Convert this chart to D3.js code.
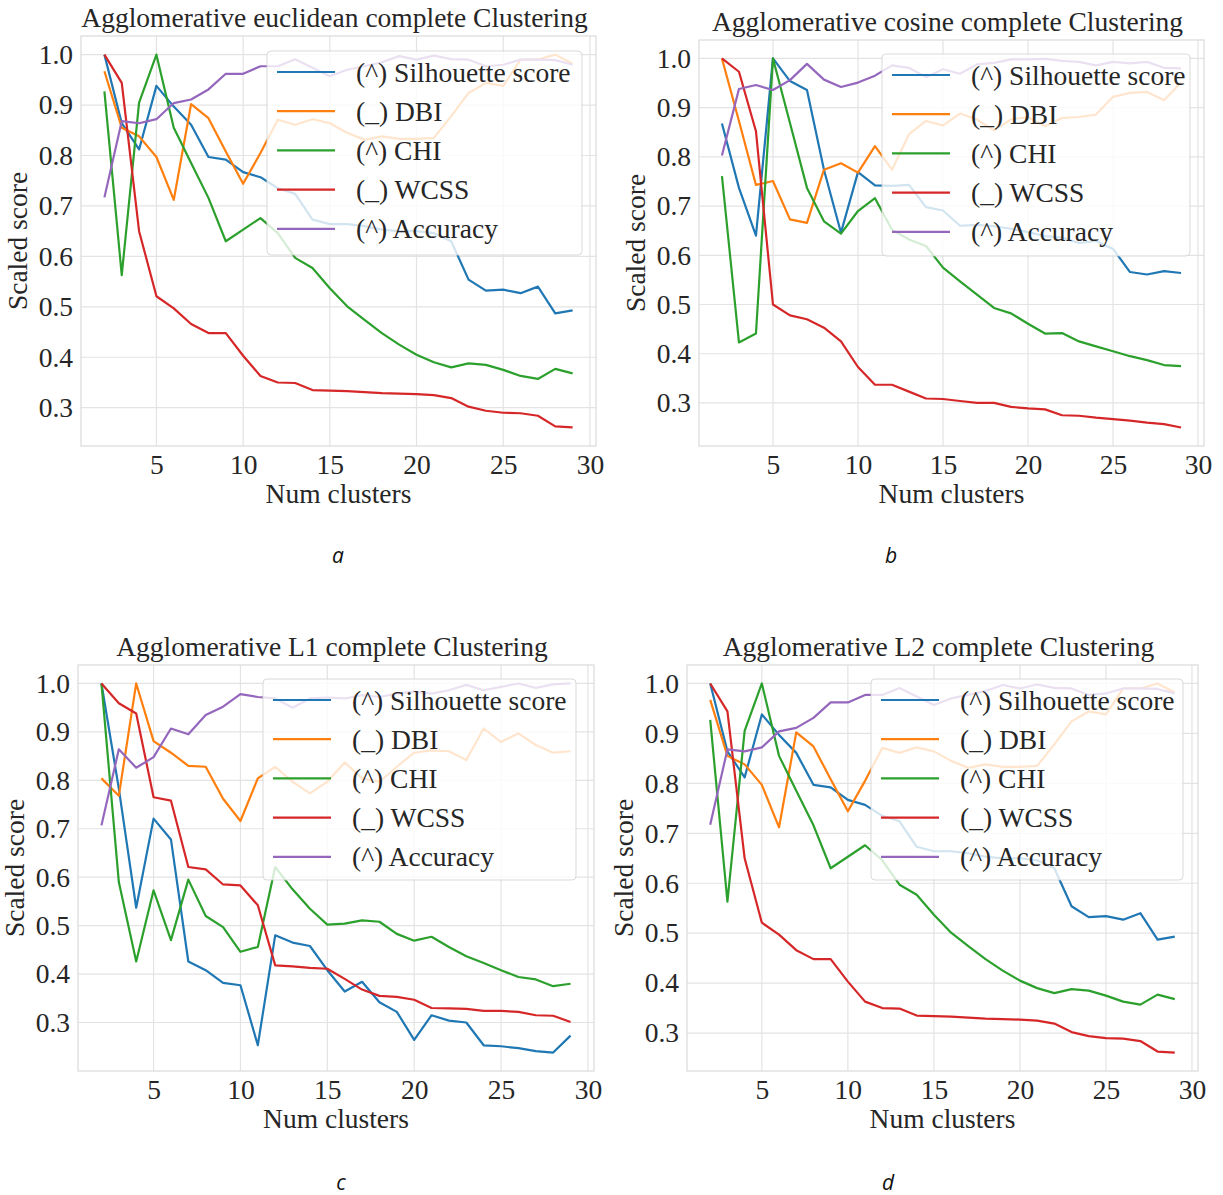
<!DOCTYPE html>
<html><head><meta charset="utf-8">
<script src="https://cdn.jsdelivr.net/npm/d3@7"></script>
<style>
html,body{margin:0;padding:0;background:#fff;}
svg{display:block;}
</style>
</head><body>
<svg id="chart" width="1223" height="1195"></svg>
<script>
// ---------- DATA ----------
const clusters = [2,3,4,5,6,7,8,9,10,11,12,13,14,15,16,17,18,19,20,21,22,23,24,25,26,27,28,29];
const seriesNames = ["(^) Silhouette score", "(_) DBI", "(^) CHI", "(_) WCSS", "(^) Accuracy"];
const xTicks = [5,10,15,20,25,30];
const yTicks = [0.3,0.4,0.5,0.6,0.7,0.8,0.9,1.0];
const panelTitles = ["Agglomerative euclidean complete Clustering","Agglomerative cosine complete Clustering","Agglomerative L1 complete Clustering","Agglomerative L2 complete Clustering"];
const panelCaptions = ["a","b","c","d"];

// (a) euclidean
const euclidSilhouette = [1.0,0.864,0.812,0.938,0.897,0.861,0.797,0.792,0.767,0.757,0.735,0.724,0.673,0.664,0.664,0.66,0.653,0.65,0.65,0.646,0.63,0.554,0.532,0.534,0.527,0.54,0.487,0.493];
const euclidDBI = [0.967,0.855,0.838,0.797,0.712,0.902,0.874,0.808,0.744,0.805,0.871,0.861,0.872,0.864,0.845,0.831,0.838,0.833,0.833,0.835,0.878,0.924,0.944,0.938,0.99,0.99,1.0,0.982];
const euclidCHI = [0.927,0.563,0.905,1.0,0.855,0.785,0.716,0.63,0.653,0.676,0.646,0.597,0.577,0.537,0.501,0.474,0.448,0.425,0.405,0.39,0.38,0.388,0.385,0.375,0.363,0.357,0.377,0.368];
const euclidWCSS = [1.0,0.944,0.65,0.521,0.497,0.466,0.448,0.448,0.403,0.363,0.35,0.349,0.335,0.334,0.333,0.331,0.329,0.328,0.327,0.325,0.319,0.302,0.294,0.29,0.289,0.284,0.263,0.261];
const euclidAccuracy = [0.717,0.868,0.864,0.872,0.904,0.911,0.931,0.962,0.962,0.977,0.977,0.991,0.974,0.957,0.97,0.977,0.985,0.997,0.99,0.998,0.991,0.99,0.977,0.98,0.99,0.99,0.989,0.98];

// (b) cosine
const cosineSilhouette = [0.868,0.737,0.64,1.0,0.954,0.936,0.774,0.646,0.769,0.742,0.741,0.743,0.698,0.691,0.66,0.662,0.659,0.654,0.647,0.639,0.636,0.625,0.629,0.613,0.566,0.561,0.568,0.564];
const cosineDBI = [1.0,0.873,0.743,0.751,0.673,0.666,0.774,0.787,0.768,0.822,0.774,0.846,0.873,0.864,0.888,0.876,0.854,0.876,0.881,0.862,0.879,0.881,0.886,0.922,0.93,0.932,0.915,0.951];
const cosineCHI = [0.761,0.423,0.441,1.0,0.869,0.737,0.669,0.644,0.69,0.716,0.652,0.632,0.619,0.575,0.547,0.52,0.493,0.482,0.461,0.441,0.442,0.425,0.415,0.405,0.395,0.387,0.377,0.375];
const cosineWCSS = [1.0,0.973,0.852,0.5,0.478,0.47,0.453,0.425,0.373,0.337,0.337,0.323,0.309,0.308,0.304,0.3,0.3,0.292,0.289,0.287,0.275,0.274,0.27,0.267,0.264,0.26,0.257,0.25];
const cosineAccuracy = [0.803,0.938,0.946,0.936,0.956,0.989,0.957,0.942,0.951,0.965,0.986,0.981,0.962,0.978,0.969,0.988,0.991,0.998,0.998,0.999,0.995,0.993,0.986,0.993,0.99,0.993,0.981,0.98];

// (c) L1
const l1Silhouette = [1.0,0.783,0.537,0.721,0.678,0.426,0.408,0.382,0.377,0.253,0.48,0.465,0.458,0.408,0.364,0.384,0.342,0.322,0.264,0.315,0.304,0.3,0.253,0.251,0.247,0.241,0.238,0.273];
const l1DBI = [0.804,0.768,1.0,0.881,0.857,0.83,0.828,0.762,0.716,0.804,0.828,0.797,0.773,0.797,0.837,0.804,0.797,0.828,0.857,0.862,0.86,0.842,0.907,0.879,0.897,0.873,0.857,0.86];
const l1CHI = [1.0,0.59,0.426,0.573,0.47,0.595,0.52,0.497,0.446,0.456,0.621,0.575,0.535,0.502,0.504,0.511,0.508,0.483,0.469,0.477,0.456,0.437,0.423,0.408,0.394,0.389,0.375,0.38];
const l1WCSS = [1.0,0.959,0.938,0.765,0.758,0.621,0.616,0.585,0.583,0.542,0.418,0.416,0.413,0.411,0.39,0.368,0.355,0.353,0.347,0.33,0.329,0.328,0.324,0.324,0.322,0.315,0.314,0.301];
const l1Accuracy = [0.707,0.864,0.826,0.848,0.907,0.895,0.935,0.952,0.978,0.972,0.969,0.95,0.969,0.971,0.969,0.976,0.972,0.979,0.983,0.979,0.986,0.997,0.986,0.993,1.0,0.991,0.998,1.0];

// (d) L2
const l2Silhouette = [1.0,0.864,0.812,0.938,0.897,0.861,0.797,0.792,0.767,0.757,0.735,0.724,0.673,0.664,0.664,0.66,0.653,0.65,0.65,0.646,0.63,0.554,0.532,0.534,0.527,0.54,0.487,0.493];
const l2DBI = [0.967,0.855,0.838,0.797,0.712,0.902,0.874,0.808,0.744,0.805,0.871,0.861,0.872,0.864,0.845,0.831,0.838,0.833,0.833,0.835,0.878,0.924,0.944,0.938,0.99,0.99,1.0,0.982];
const l2CHI = [0.927,0.563,0.905,1.0,0.855,0.785,0.716,0.63,0.653,0.676,0.646,0.597,0.577,0.537,0.501,0.474,0.448,0.425,0.405,0.39,0.38,0.388,0.385,0.375,0.363,0.357,0.377,0.368];
const l2WCSS = [1.0,0.944,0.65,0.521,0.497,0.466,0.448,0.448,0.403,0.363,0.35,0.349,0.335,0.334,0.333,0.331,0.329,0.328,0.327,0.325,0.319,0.302,0.294,0.29,0.289,0.284,0.263,0.261];
const l2Accuracy = [0.717,0.868,0.864,0.872,0.904,0.911,0.931,0.962,0.962,0.977,0.977,0.991,0.974,0.957,0.97,0.977,0.985,0.997,0.99,0.998,0.991,0.99,0.977,0.98,0.99,0.99,0.989,0.98];

// ---------- LAYOUT / STYLE ----------
const colors = ["#1f77b4","#ff7f0e","#2ca02c","#d62728","#9467bd"];
const FONT = "'Liberation Serif','Times New Roman',serif";
const FS = 27.5;
const panels = [
  {box:{l:81,r:596,t:36,b:446}, legend:{x:267,y:51,w:315,h:204}, caption:{x:338,y:565},
   series:[euclidSilhouette,euclidDBI,euclidCHI,euclidWCSS,euclidAccuracy]},
  {box:{l:699,r:1204,t:40,b:446}, legend:{x:882,y:54,w:308,h:202}, caption:{x:891,y:565},
   series:[cosineSilhouette,cosineDBI,cosineCHI,cosineWCSS,cosineAccuracy]},
  {box:{l:78,r:594,t:665,b:1071}, legend:{x:263,y:679,w:313,h:201}, caption:{x:341,y:1192},
   series:[l1Silhouette,l1DBI,l1CHI,l1WCSS,l1Accuracy]},
  {box:{l:687,r:1198,t:665,b:1071}, legend:{x:871,y:679,w:312,h:201}, caption:{x:888,y:1192},
   series:[l2Silhouette,l2DBI,l2CHI,l2WCSS,l2Accuracy]}
];

const svg = d3.select("#chart");

panels.forEach((p, pi) => {
  const b = p.box;
  const g = svg.append("g");
  const xmin = d3.min(clusters), xmax = d3.max(clusters);
  const xm = (xmax - xmin) * 0.05;
  const allY = p.series.flat();
  const ymin = d3.min(allY), ymax = d3.max(allY);
  const ym = (ymax - ymin) * 0.05;
  const x = d3.scaleLinear().domain([xmin - xm, xmax + xm]).range([b.l, b.r]);
  const y = d3.scaleLinear().domain([ymin - ym, ymax + ym]).range([b.b, b.t]);

  // grid
  g.append("g").selectAll("line").data(xTicks.filter(t => x(t) <= b.r + 0.5)).join("line")
    .attr("x1", d => x(d)).attr("x2", d => x(d)).attr("y1", b.t).attr("y2", b.b)
    .attr("stroke", "#e3e3e3").attr("stroke-width", 1.2);
  g.append("g").selectAll("line").data(yTicks).join("line")
    .attr("x1", b.l).attr("x2", b.r).attr("y1", d => y(d)).attr("y2", d => y(d))
    .attr("stroke", "#e3e3e3").attr("stroke-width", 1.2);

  // axes (tick labels only, no tick marks)
  const xAxis = d3.axisBottom(x).tickValues(xTicks).tickSize(0).tickPadding(8).tickFormat(d3.format("d"));
  const yAxis = d3.axisLeft(y).tickValues(yTicks).tickSize(0).tickPadding(8).tickFormat(d3.format(".1f"));
  const gx = g.append("g").attr("transform", `translate(0,${b.b})`).call(xAxis);
  const gy = g.append("g").attr("transform", `translate(${b.l},0)`).call(yAxis);
  [gx, gy].forEach(a => {
    a.select(".domain").remove();
    a.selectAll("text").attr("font-family", FONT).attr("font-size", FS).attr("fill", "#262626");
  });
  gx.selectAll("text").attr("dy", "0.71em");

  // frame
  g.append("rect").attr("x", b.l).attr("y", b.t).attr("width", b.r - b.l).attr("height", b.b - b.t)
    .attr("fill", "none").attr("stroke", "#dadada").attr("stroke-width", 1.2);

  // lines
  const line = d3.line().x((d, i) => x(clusters[i])).y(d => y(d));
  p.series.forEach((s, si) => {
    g.append("path").datum(s).attr("d", line).attr("fill", "none")
      .attr("stroke", colors[si]).attr("stroke-width", 2.2).attr("stroke-linejoin", "round");
  });

  // legend
  const L = p.legend;
  g.append("rect").attr("x", L.x).attr("y", L.y).attr("width", L.w).attr("height", L.h)
    .attr("rx", 4).attr("fill", "#fff").attr("fill-opacity", 0.8)
    .attr("stroke", "#cfcfcf").attr("stroke-opacity", 0.8);
  seriesNames.forEach((name, si) => {
    const cy = L.y + 21 + si * 39.2;
    g.append("line").attr("x1", L.x + 10).attr("x2", L.x + 68).attr("y1", cy).attr("y2", cy)
      .attr("stroke", colors[si]).attr("stroke-width", 2.2);
    g.append("text").attr("x", L.x + 89).attr("y", cy).attr("dy", "0.35em")
      .attr("font-family", FONT).attr("font-size", FS).attr("fill", "#262626").text(name);
  });

  // title
  g.append("text").attr("x", (b.l + b.r) / 2 - 4).attr("y", b.t - 9).attr("text-anchor", "middle")
    .attr("font-family", FONT).attr("font-size", FS).attr("fill", "#262626").text(panelTitles[pi]);
  // x label
  g.append("text").attr("x", (b.l + b.r) / 2).attr("y", b.b + 57).attr("text-anchor", "middle")
    .attr("font-family", FONT).attr("font-size", FS).attr("fill", "#262626").text("Num clusters");
  // y label
  g.append("text").attr("transform", `translate(${b.l - 54},${(b.t + b.b) / 2}) rotate(-90)`)
    .attr("text-anchor", "middle")
    .attr("font-family", FONT).attr("font-size", FS).attr("fill", "#262626").text("Scaled score");
  // caption
  g.append("text").attr("x", p.caption.x).attr("y", p.caption.y - 2).attr("text-anchor", "middle")
    .attr("font-family", "'Open Sans','DejaVu Sans',sans-serif").attr("font-style", "italic")
    .attr("font-size", 21).attr("fill", "#111").text(panelCaptions[pi]);
});
</script>
</body></html>
